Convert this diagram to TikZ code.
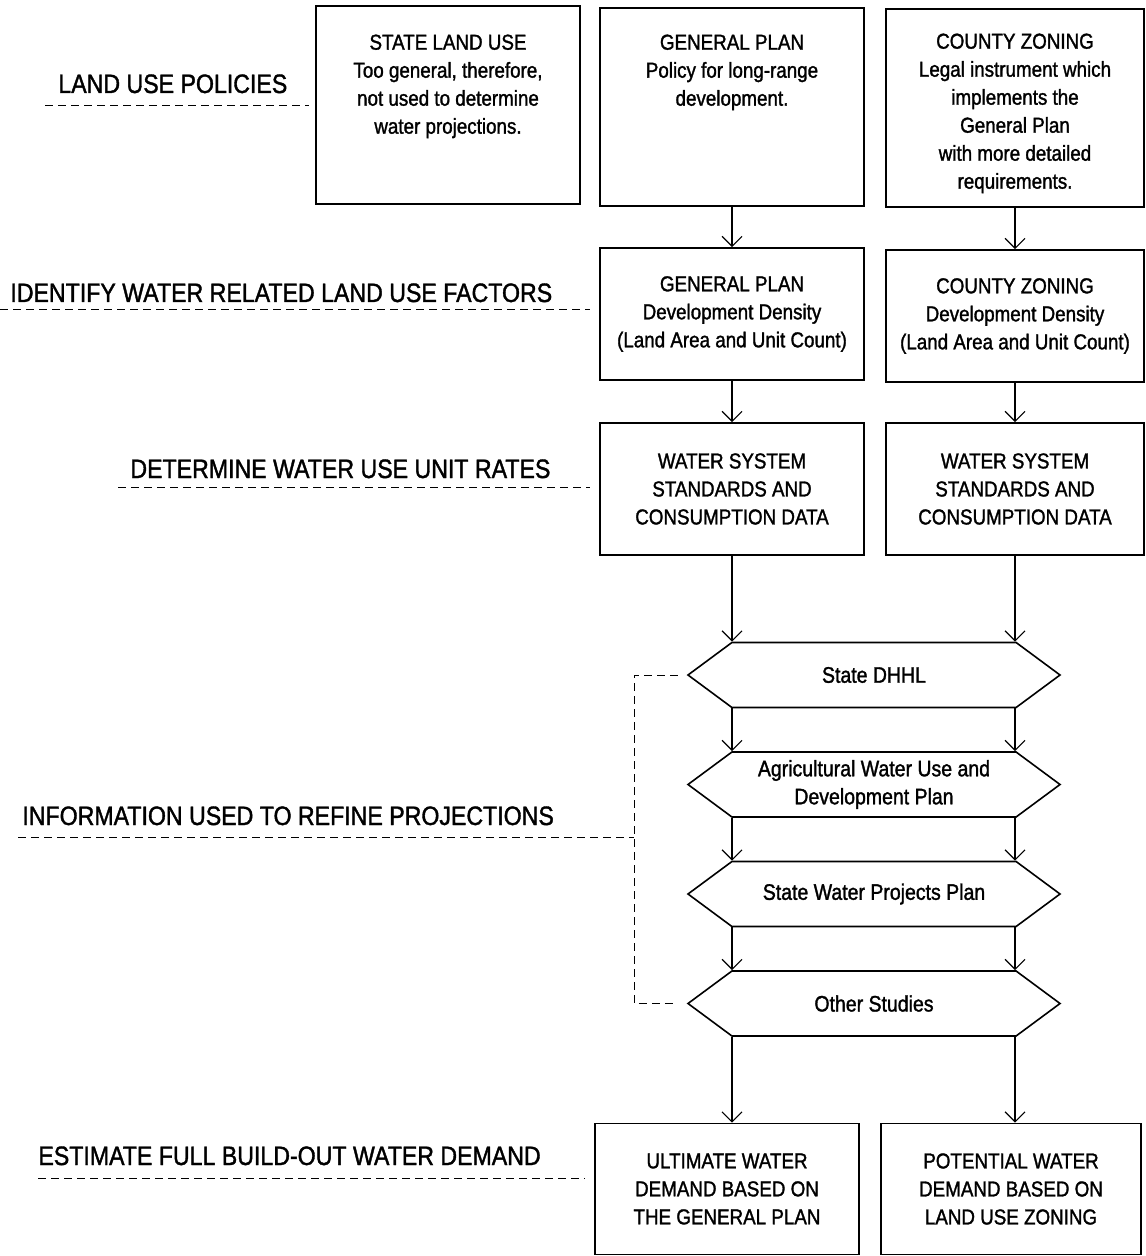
\documentclass[tikz,border=0pt]{standalone}
\usepackage{fontspec}
\setmainfont[FakeStretch=0.87,FakeBold=1.4]{Liberation Sans}
\usetikzlibrary{arrows.meta,positioning,shapes.symbols}

\begin{document}
\begin{tikzpicture}[x=0.5pt,y=-0.5pt]
    \tikzset{box/.style = {draw,line width=0.8pt,minimum width=132pt,minimum height=66pt,
        align=center,inner sep=0pt,font=\fontsize{10.8}{14}\selectfont}}
    \tikzset{topbox/.style = {box,minimum height=99pt}}
    \tikzset{toptext/.style = {anchor=north,align=center,inner sep=0pt,
        font=\fontsize{10.8}{14}\selectfont}}
    \tikzset{hexa/.style = {draw,line width=0.8pt,signal,signal to=east and west,
        signal pointer angle=73,minimum width=186pt,minimum height=32.5pt,
        align=center,inner sep=0pt,font=\fontsize{11.2}{14}\selectfont}}
    \tikzset{heading/.style = {anchor=base west,inner sep=0pt,font=\fontsize{13.3}{16}\selectfont}}
    \tikzset{guide/.style = {dash pattern=on 4pt off 2.5pt,line width=0.5pt}}
    \tikzset{edge/.style = {-{Straight Barb[length=5pt,width=10pt]},line width=0.6pt}}
    \useasboundingbox (0,0) rectangle (1145,1256);

    % land use policies
    \node[topbox,label={[toptext,yshift=-14.5pt]north:{STATE LAND USE\\Too general, therefore,\\not used to determine\\water projections.}}] (stateland) at (448,105) {};
    \node[topbox,label={[toptext,yshift=-13.5pt]north:{GENERAL PLAN\\Policy for long-range\\development.}}] (genplan) at (732,107) {};
    \node[topbox,minimum width=129pt,label={[toptext,yshift=-12.5pt]north:{COUNTY ZONING\\Legal instrument which\\implements the\\General Plan\\with more detailed\\requirements.}}] (zoning) at (1015,108) {};

    % land use factors and unit rates
    \node[box] (gpdens) at (732,314) {GENERAL PLAN\\Development Density\\(Land Area and Unit Count)};
    \node[box,minimum width=129pt] (czdens) at (1015,316) {COUNTY ZONING\\Development Density\\(Land Area and Unit Count)};
    \node[box] (gprates) at (732,489) {WATER SYSTEM\\STANDARDS AND\\CONSUMPTION DATA};
    \node[box,minimum width=129pt] (czrates) at (1015,489) {WATER SYSTEM\\STANDARDS AND\\CONSUMPTION DATA};

    % refining information
    \node[hexa] (dhhl) at (874,675) {State DHHL};
    \node[hexa] (agri) at (874,784.5) {Agricultural Water Use and\\Development Plan};
    \node[hexa] (swp) at (874,894) {State Water Projects Plan};
    \node[hexa] (other) at (874,1003.5) {Other Studies};

    % build-out demand
    \node[box,minimum height=65.5pt] (ultimate) at (727,1189) {ULTIMATE WATER\\DEMAND BASED ON\\THE GENERAL PLAN};
    \node[box,minimum height=65.5pt,minimum width=130pt] (potential) at (1011,1189) {POTENTIAL WATER\\DEMAND BASED ON\\LAND USE ZONING};

    %edges
    \draw[edge] (genplan) -- (gpdens);
    \draw[edge] (zoning) -- (czdens);
    \draw[edge] (gpdens) -- (gprates);
    \draw[edge] (czdens) -- (czrates);
    \draw[edge] (gprates.south) -- (gprates.south |- dhhl.north);
    \draw[edge] (czrates.south) -- (czrates.south |- dhhl.north);
    \draw[edge] (gprates.south |- dhhl.south) -- (gprates.south |- agri.north);
    \draw[edge] (czrates.south |- dhhl.south) -- (czrates.south |- agri.north);
    \draw[edge] (gprates.south |- agri.south) -- (gprates.south |- swp.north);
    \draw[edge] (czrates.south |- agri.south) -- (czrates.south |- swp.north);
    \draw[edge] (gprates.south |- swp.south) -- (gprates.south |- other.north);
    \draw[edge] (czrates.south |- swp.south) -- (czrates.south |- other.north);
    \draw[edge] (gprates.south |- other.south) -- (gprates.south |- ultimate.north);
    \draw[edge] (czrates.south |- other.south) -- (czrates.south |- potential.north);

    % step headings
    \node[heading] (hpolicies) at (58,93) {LAND USE POLICIES};
    \node[heading] (hfactors) at (10,302) {IDENTIFY WATER RELATED LAND USE FACTORS};
    \node[heading] (hrates) at (130,478) {DETERMINE WATER USE UNIT RATES};
    \node[heading] (hrefine) at (22,825) {INFORMATION USED TO REFINE PROJECTIONS};
    \node[heading] (hdemand) at (38,1165) {ESTIMATE FULL BUILD-OUT WATER DEMAND};
    \coordinate (bracket) at (634,837);
    \draw[guide] (45,106) -- (309,106);
    \draw[guide] (0,310) -- (590,310);
    \draw[guide] (118,487) -- (590,487);
    \draw[guide] (18,837) -- (bracket);
    \draw[guide] (38,1178) -- (585,1178);
    \draw[guide] ([xshift=-4.5pt]dhhl.west) -| (bracket) |- ([xshift=-4.5pt]other.west);
\end{tikzpicture}
\end{document}
